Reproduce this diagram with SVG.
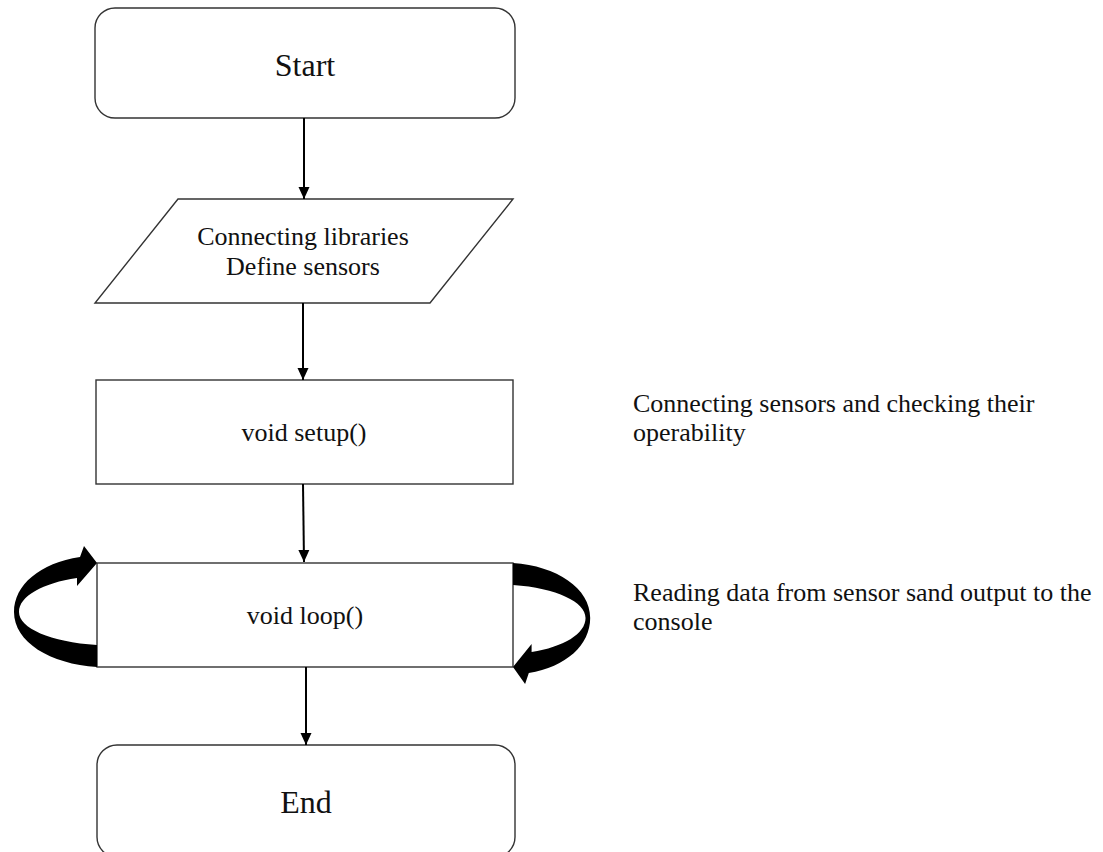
<svg xmlns="http://www.w3.org/2000/svg" width="1103" height="852" viewBox="0 0 1103 852">
<defs>
<marker id="ah" markerWidth="12" markerHeight="12" refX="12" refY="6" orient="auto" markerUnits="userSpaceOnUse">
<path d="M0,0.5 L12,6 L0,11.5 Z" fill="#000"/>
</marker>
<style>
.box{fill:#fff;stroke:#333;stroke-width:1.4}
.t{font-family:"Liberation Serif","Times New Roman",serif;fill:#111}
.c{stroke:#000;stroke-width:2;fill:none}
.loopArrow{fill:#000;stroke:none}
</style>
</defs>
<rect width="1103" height="852" fill="#fff"/>
<g id="start">
<rect class="box" x="95" y="8" width="420" height="110" rx="20" ry="20"/>
<text class="t" x="305" y="76" font-size="32" text-anchor="middle">Start</text>
</g>
<g id="input">
<polygon class="box" points="178,199 513,199 430,303 95,303"/>
<text class="t" x="303" y="245" font-size="26" text-anchor="middle">Connecting libraries</text>
<text class="t" x="303" y="275" font-size="26" text-anchor="middle">Define sensors</text>
</g>
<g id="setup">
<rect class="box" x="96" y="380" width="417" height="104"/>
<text class="t" x="304" y="441" font-size="26" text-anchor="middle">void setup()</text>
</g>
<g id="loop">
<rect class="box" x="97" y="563" width="416" height="104"/>
<text class="t" x="305" y="624" font-size="26" text-anchor="middle">void loop()</text>
</g>
<g id="end">
<rect class="box" x="97" y="745" width="418" height="112" rx="20" ry="20"/>
<text class="t" x="306" y="813" font-size="32" text-anchor="middle">End</text>
</g>
<g id="note-setup">
<text class="t" x="633" y="412" font-size="26">Connecting sensors and checking their</text>
<text class="t" x="633" y="441" font-size="26">operability</text>
</g>
<g id="note-loop">
<text class="t" x="633" y="601" font-size="26">Reading data from sensor sand output to the</text>
<text class="t" x="633" y="630" font-size="26">console</text>
</g>
<g id="connectors">
<line class="c" x1="304" y1="118" x2="304" y2="199" marker-end="url(#ah)"/>
<line class="c" x1="303" y1="303" x2="303" y2="380" marker-end="url(#ah)"/>
<line class="c" x1="303" y1="484" x2="304" y2="562" marker-end="url(#ah)"/>
<line class="c" x1="306" y1="667" x2="306" y2="745" marker-end="url(#ah)"/>
<path id="loop-left" class="loopArrow" d="M97,667 C50,664 14,642 14,612 C14,585 40,563 80,557 L84,546 L97,563 L77,586 L77,578 C43,583 19,596 19,612 C19,628 50,642 97,645 Z"/>
<path id="loop-right" class="loopArrow" transform="translate(513,0) scale(0.93,1) translate(-513,0) rotate(180 305 615)" d="M97,667 C50,664 14,642 14,612 C14,585 40,563 80,557 L84,546 L97,563 L77,586 L77,578 C43,583 19,596 19,612 C19,628 50,642 97,645 Z"/>
</g>
</svg>
